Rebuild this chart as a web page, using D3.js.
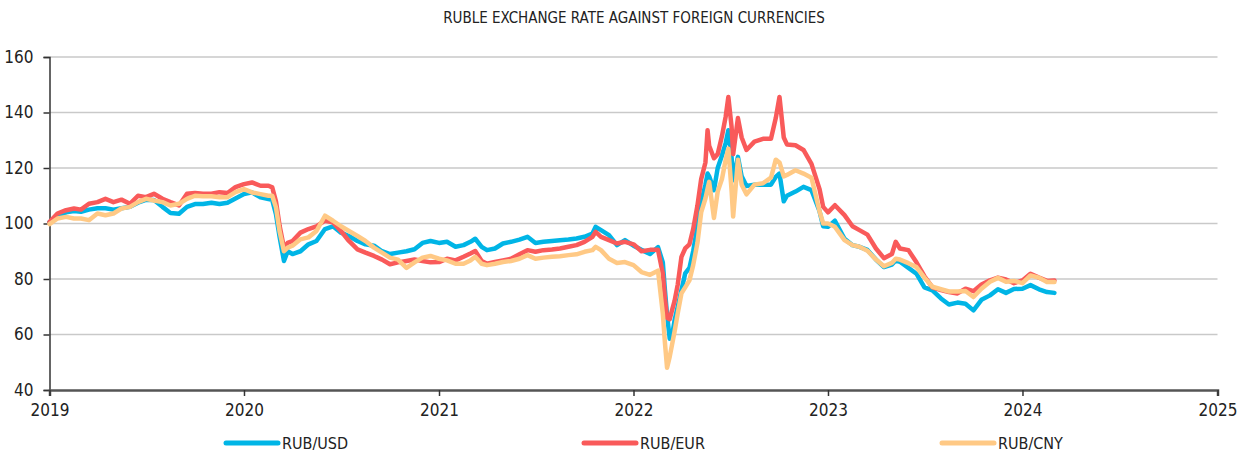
<!DOCTYPE html>
<html><head><meta charset="utf-8">
<script src="https://cdn.jsdelivr.net/npm/d3@7"></script>
<style>
html,body{margin:0;padding:0;background:#fff;}
svg{display:block;}
</style></head>
<body>
<svg id="chart" width="1245" height="456"></svg>
<script>
const title = "RUBLE EXCHANGE RATE AGAINST FOREIGN CURRENCIES";
const seriesNames = ["RUB/USD", "RUB/EUR", "RUB/CNY"];
const yTicks = [40, 60, 80, 100, 120, 140, 160];
const xTickLabels = ["2019", "2020", "2021", "2022", "2023", "2024", "2025"];

const dates = [
"2019-01-01","2019-01-16","2019-02-01","2019-02-16","2019-03-01","2019-03-16","2019-04-01","2019-04-16","2019-05-01","2019-05-16","2019-06-01","2019-06-16",
"2019-07-01","2019-07-16","2019-08-01","2019-08-16","2019-09-01","2019-09-16","2019-10-01","2019-10-16","2019-11-01","2019-11-16","2019-12-01","2019-12-16",
"2020-01-01","2020-01-16","2020-02-01","2020-02-16","2020-02-23","2020-03-01","2020-03-08","2020-03-16","2020-03-23","2020-04-01","2020-04-16","2020-05-01",
"2020-05-16","2020-06-01","2020-06-16","2020-07-01","2020-07-16","2020-08-01","2020-08-16","2020-09-01","2020-09-16","2020-10-01","2020-10-16","2020-11-01",
"2020-11-16","2020-12-01","2020-12-16",
"2021-01-01","2021-01-16","2021-02-01","2021-02-16","2021-03-01","2021-03-10","2021-03-22","2021-04-01","2021-04-16","2021-05-01","2021-05-16","2021-06-01",
"2021-06-16","2021-07-01","2021-07-16","2021-08-01","2021-08-16","2021-09-01","2021-09-16","2021-10-01","2021-10-16","2021-10-22","2021-11-01","2021-11-16",
"2021-12-01","2021-12-16",
"2022-01-01","2022-01-16","2022-02-01","2022-02-16","2022-02-25","2022-03-01","2022-03-05","2022-03-10","2022-03-14","2022-03-19","2022-03-25","2022-04-01",
"2022-04-08","2022-04-16","2022-04-23","2022-05-01","2022-05-08","2022-05-16","2022-05-20","2022-05-23","2022-06-01","2022-06-08","2022-06-16","2022-06-23",
"2022-06-28","2022-07-04","2022-07-07","2022-07-16","2022-07-23","2022-08-01","2022-08-16","2022-09-01","2022-09-16","2022-09-25","2022-10-02","2022-10-10",
"2022-10-16","2022-11-01","2022-11-16","2022-12-01","2022-12-16","2022-12-23",
"2023-01-01","2023-01-14","2023-02-01","2023-02-16","2023-03-01","2023-03-16","2023-04-01","2023-04-16","2023-05-01","2023-05-08","2023-05-16","2023-06-01",
"2023-06-16","2023-07-01","2023-07-16","2023-08-01","2023-08-16","2023-09-01","2023-09-16","2023-10-01","2023-10-16","2023-11-01","2023-11-16","2023-12-01",
"2023-12-16","2024-01-01","2024-01-16","2024-02-01","2024-02-16","2024-03-01"
];

const rubUsd = [
100.5,102.5,104,104.5,104.2,105,105.5,105.5,105,105.5,106,107.5,
108.5,108.5,106,103.8,103.5,106,107,107,107.5,107,107.5,109,
110.6,111.2,109.4,108.8,108.5,103.4,95,86.5,90,89,90,92.5,
93.7,98,99,96.7,95.5,93.7,92.5,92,90,89,89.5,90,
90.7,93,93.7,
93,93.4,91.6,92.2,93.4,94.5,91.6,90.4,91,92.8,93.4,94.2,
95.2,93,93.4,93.7,94,94.2,94.6,95.2,96.4,98.8,97.6,95.8,
92.2,94,
92,90.5,89,91.5,86,76,67,58.5,59,65,70,76,
82,84,90,99,107.5,114,118,117,112,120,124.5,129,
133.6,124,115.6,124,117,113.5,114,114,114,116.8,118,108,
110,111.5,113.2,112,104.5,99,
98.8,101,94.5,92.2,91.6,90.5,87,84.3,85.2,86.7,86.2,84,
81.9,77,75.9,73,70.8,71.5,71.1,68.7,72.5,74.1,76.3,75,
76.4,76.5,77.8,76.3,75.3,75
];

const rubEur = [
100.5,103.6,104.8,105.4,105,107.1,107.7,108.9,107.7,108.6,107.1,110,
109.5,110.7,108.9,107.7,106.5,110.7,111,110.7,110.7,111.3,111,113.1,
114.2,114.8,113.6,113.6,113,108,99,91.3,93,93.7,96.7,98,
99,101,100.4,97.3,93.7,90.7,89.5,88.3,87,85.3,86,86.5,
87,86.5,86,
86.1,87.3,86.7,88,89.2,90.1,86.5,85.5,86.1,86.7,87.3,88.9,
90.4,89.8,90.4,90.6,91,91.6,92.2,93.4,95.2,97,95.2,94,
92.8,93.4,
92.5,90,90.5,90.5,82,73,66,65.5,68.5,72,78,88,
91,92.5,98,106.5,116,122,133.6,128,123.5,125,131.5,138.5,
145.6,135,125,138,131,126.5,129.5,130.5,130.5,138,145.6,131,
128.5,128.2,126.5,121.5,112.5,106,
104,106.6,103,99,97.6,96,91,87.5,89,93.4,91,90.4,
86,81,77,76,75.3,74.8,76.5,75.6,78,79.5,80.5,79.8,
78.5,79.5,81.9,80.5,79.3,79.5
];

const rubCny = [
99.8,101.8,102.4,101.8,101.8,101.2,103.6,103,103.6,105.4,106,107.7,
108.9,108.3,107.7,106.5,107.1,108.9,110,109.8,109.8,109.5,109.5,111.3,
112.4,111.2,110.6,110,110,105.8,97,90,91.3,92,94.3,95,
97.3,102.8,101,99,97.3,95.5,93.7,91.3,89.5,87.7,87,84,
86,87.7,88.3,
87.3,86.7,85.5,85.5,86.7,88,85.5,85,85.5,86.1,86.5,87.3,
88.6,87.3,87.7,88,88.2,88.6,88.9,89.8,90.4,91.6,90.4,87.3,
85.8,86.1,
85,82.5,81.5,83,67.6,57,48,52,56,61,67.6,74.8,
77,79.5,85,93,104,109,112.5,115,102,111.5,116,123,
127,112,102.5,123,114,110.5,114,114.5,116.5,123,122,117,
117.5,119.2,118,116.5,104.5,100,
100,98.8,94,92.2,91.6,90.2,87,84.6,85.8,87.3,87,85.7,
84.3,80.5,77.2,76.3,75.5,75.5,75.7,73.5,76.5,79,80.4,79,
79.3,78.5,81.3,80.5,78.9,78.9
];

const colors = ["#00B5E6", "#F95A5A", "#FFC985"];

const svg = d3.select("#chart");
const mLeft = 49.5, mRight = 1217.5, mTop = 57, mBottom = 390;
const parse = d3.timeParse("%Y-%m-%d");
const dd = dates.map(parse);

const x = d3.scaleTime().domain([parse("2019-01-01"), parse("2025-01-01")]).range([mLeft, mRight]);
const y = d3.scaleLinear().domain([40, 160]).range([mBottom, mTop]);

const labelFont = "'Liberation Sans Narrow','DejaVu Sans Condensed','Roboto',sans-serif";

// gridlines
svg.append("g").selectAll("line").data(yTicks.filter(v => v > 40)).join("line")
  .attr("x1", mLeft).attr("x2", mRight)
  .attr("y1", d => y(d)).attr("y2", d => y(d))
  .attr("stroke", "#c9c9c9").attr("stroke-width", 1.5);

// title
svg.append("text").attr("x", 634).attr("y", 23).attr("text-anchor", "middle")
  .attr("font-family", labelFont).attr("font-size", 15).attr("fill", "#222")
  .text(title);

// y axis
const yAxis = d3.axisLeft(y).tickValues(yTicks).tickSize(6).tickFormat(d3.format("d"));
const gy = svg.append("g").attr("transform", `translate(${mLeft},0)`).call(yAxis);
gy.select(".domain").attr("stroke", "#333").attr("stroke-width", 1.5);
gy.selectAll(".tick line").attr("stroke", "#333").attr("stroke-width", 1.5);
gy.selectAll(".tick text").attr("font-family", labelFont).attr("font-size", 17).attr("fill", "#222").attr("x", -16);

// x axis
const xTickDates = xTickLabels.map(s => parse(s + "-01-01"));
const xAxis = d3.axisBottom(x).tickValues(xTickDates).tickSize(6).tickFormat((d, i) => xTickLabels[i]);
const gx = svg.append("g").attr("transform", `translate(0,${mBottom})`).call(xAxis);
gx.select(".domain").attr("stroke", "#555").attr("stroke-width", 2.5);
gx.selectAll(".tick line").attr("stroke", "#333").attr("stroke-width", 1.5);
gx.selectAll(".tick text").attr("font-family", labelFont).attr("font-size", 17).attr("fill", "#222").attr("y", 14);

// lines
const seriesData = [rubUsd, rubEur, rubCny];
const line = d3.line().x((d, i) => x(dd[i])).y(d => y(d));
svg.append("g").selectAll("path").data(seriesData).join("path")
  .attr("d", d => line(d))
  .attr("fill", "none")
  .attr("stroke", (d, i) => colors[i])
  .attr("stroke-width", 4.5)
  .attr("stroke-linejoin", "round")
  .attr("stroke-linecap", "round");

// legend
const legendX = [226, 584, 942];
const lg = svg.append("g").selectAll("g").data(seriesNames).join("g")
  .attr("transform", (d, i) => `translate(${legendX[i]},443)`);
lg.append("line").attr("x1", 0).attr("x2", 52).attr("y1", 0).attr("y2", 0)
  .attr("stroke", (d, i) => colors[i]).attr("stroke-width", 5).attr("stroke-linecap", "round");
lg.append("text").attr("x", 56).attr("y", 6)
  .attr("font-family", labelFont).attr("font-size", 16).attr("fill", "#222")
  .text(d => d);
</script>
</body></html>
